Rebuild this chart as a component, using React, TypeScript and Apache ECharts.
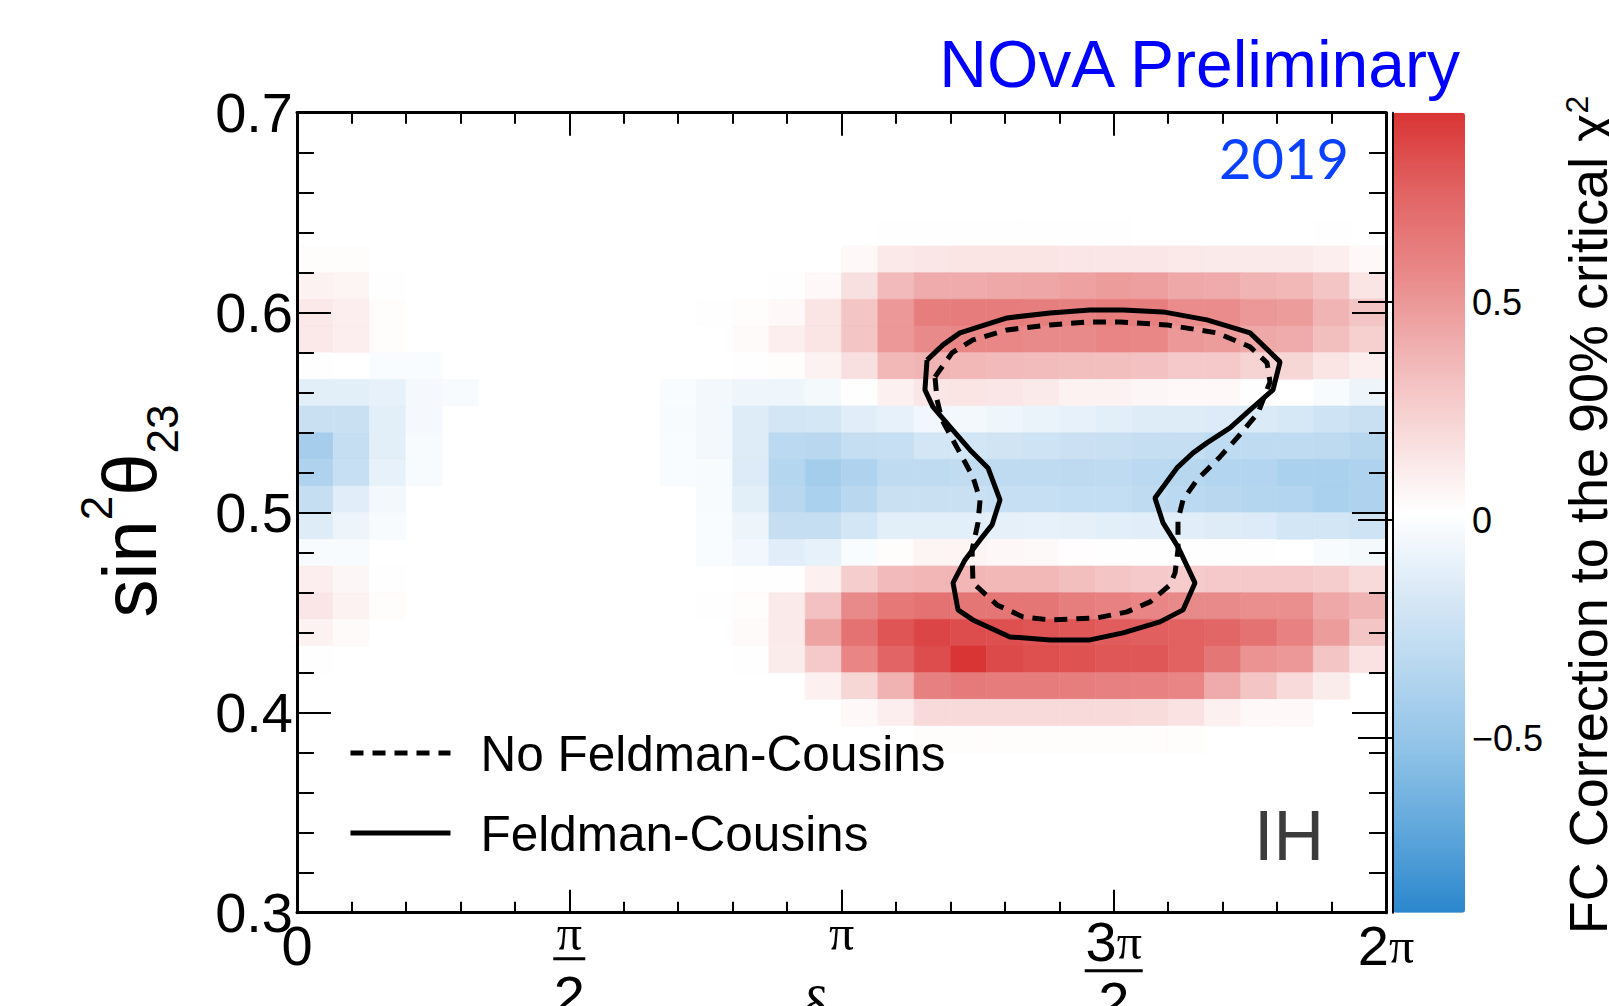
import React, { useEffect, useRef } from "react";
import * as echarts from "echarts";

const SANS = "Liberation Sans";
const SERIF = "Liberation Serif";

// axis ranges and binning
const DELTA_MIN = 0;
const DELTA_MAX = 2 * Math.PI;
const SIN2_MIN = 0.3;
const SIN2_MAX = 0.7;
const N_DELTA_BINS = 30;
const N_SIN2_BINS = 30;

// FC correction to the 90% critical chi^2, rows from top (0.6867-0.70) to bottom (0.30-0.3133)
const fcCorrection: number[][] = [
  [0,0,0,0,0,0,0,0,0,0, 0,0,0,0,0,0,0,0,0,0, 0,0,0,0,0,0,0,0,0,0],
  [0,0,0,0,0,0,0,0,0,0, 0,0,0,0,0,0,0,0,0,0, 0,0,0,0,0,0,0,0,0,0],
  [0,0,0,0,0,0,0,0,0,0, 0,0,0,0,0,0,0,0,0,0, 0,0,0,0,0,0,0,0,0,0],
  [0,0,0,0,0,0,0,0,0,0, 0,0,0,0,0,0,0,0,0,0, 0,0,0,0,0,0,0,0,0,0],
  [0,0,0,0,0,0,0,0,0,0, 0,0,0,0,0,0,0.02,0.02,0.02,0.02, 0.02,0.02,0.02,0.015,0.015,0.015,0.015,0.015,0.01,0],
  [0.03,0.03,0,0,0,0,0,0,0,0, 0,0,0,0,0,0.05,0.13,0.14,0.15,0.15, 0.15,0.14,0.14,0.14,0.13,0.12,0.12,0.12,0.1,0.05],
  [0.08,0.07,0.02,0,0,0,0,0,0,0, 0,0,0,0.02,0.05,0.17,0.35,0.42,0.42,0.43, 0.44,0.46,0.48,0.47,0.43,0.42,0.38,0.36,0.3,0.15],
  [0.13,0.1,0.03,0.015,0,0,0,0,0,0, 0,0.01,0.03,0.05,0.15,0.3,0.5,0.62,0.63,0.63, 0.62,0.61,0.63,0.62,0.55,0.55,0.5,0.48,0.38,0.3],
  [0.13,0.1,0.03,0.015,0,0,0,0,0,0, 0,0.015,0.04,0.1,0.15,0.3,0.5,0.56,0.57,0.57, 0.56,0.56,0.58,0.57,0.5,0.48,0.43,0.42,0.33,0.25],
  [0.02,0,-0.01,-0.01,0,0,0,0,0,0, 0,0,0.02,0.03,0.08,0.17,0.36,0.38,0.36,0.35, 0.34,0.33,0.33,0.32,0.28,0.28,0.23,0.22,0.15,0.1],
  [-0.12,-0.12,-0.1,-0.03,-0.015,0,0,0,0,0, -0.01,-0.04,-0.065,-0.065,-0.035,0.01,0.09,0.14,0.15,0.14, 0.12,0.08,0.08,0.06,0.05,0.05,0.02,0,-0.02,-0.07],
  [-0.25,-0.25,-0.12,-0.03,0,0,0,0,0,0, -0.015,-0.04,-0.14,-0.2,-0.19,-0.13,-0.1,-0.05,-0.04,-0.06, -0.08,-0.1,-0.12,-0.14,-0.14,-0.15,-0.16,-0.18,-0.22,-0.25],
  [-0.42,-0.27,-0.12,-0.02,0,0,0,0,0,0, -0.01,-0.04,-0.14,-0.32,-0.33,-0.27,-0.26,-0.2,-0.2,-0.21, -0.22,-0.24,-0.25,-0.27,-0.27,-0.3,-0.3,-0.3,-0.31,-0.34],
  [-0.38,-0.26,-0.1,-0.02,0,0,0,0,0,0, -0.01,-0.02,-0.15,-0.35,-0.43,-0.38,-0.3,-0.3,-0.29,-0.3, -0.3,-0.31,-0.3,-0.32,-0.34,-0.36,-0.36,-0.4,-0.4,-0.38],
  [-0.27,-0.13,-0.04,0,0,0,0,0,0,0, 0,-0.02,-0.12,-0.33,-0.4,-0.33,-0.25,-0.25,-0.25,-0.26, -0.26,-0.28,-0.28,-0.3,-0.32,-0.33,-0.35,-0.36,-0.4,-0.38],
  [-0.14,-0.07,-0.015,0,0,0,0,0,0,0, 0,-0.01,-0.07,-0.27,-0.27,-0.2,-0.12,-0.12,-0.12,-0.11, -0.1,-0.11,-0.12,-0.13,-0.13,-0.14,-0.15,-0.2,-0.2,-0.22],
  [-0.015,-0.015,0,0,0,0,0,0,0,0, 0,-0.01,-0.05,-0.13,-0.1,-0.01,0.03,0.07,0.07,0.055, 0.045,0.025,0.02,0.02,0.02,0.02,0.01,0,-0.015,-0.035],
  [0.1,0.06,0.02,0,0,0,0,0,0,0, 0,0,0.01,0.02,0.09,0.26,0.35,0.37,0.37,0.36, 0.36,0.33,0.3,0.28,0.27,0.28,0.28,0.28,0.26,0.2],
  [0.14,0.08,0.03,0,0,0,0,0,0,0, 0,0.01,0.03,0.12,0.32,0.56,0.65,0.68,0.66,0.66, 0.66,0.62,0.6,0.58,0.56,0.56,0.54,0.54,0.43,0.38],
  [0.08,0.04,0,0,0,0,0,0,0,0, 0,0.015,0.04,0.12,0.45,0.68,0.81,0.87,0.84,0.83, 0.81,0.8,0.78,0.77,0.76,0.74,0.68,0.6,0.48,0.3],
  [0.02,0,0,0,0,0,0,0,0,0, 0,0,0.02,0.11,0.28,0.58,0.75,0.84,0.93,0.85, 0.83,0.82,0.8,0.8,0.76,0.66,0.52,0.5,0.3,0.16],
  [0,0,0,0,0,0,0,0,0,0, 0,0,0,0,0.09,0.22,0.39,0.61,0.64,0.63, 0.63,0.62,0.61,0.6,0.58,0.42,0.3,0.2,0.11,0],
  [0,0,0,0,0,0,0,0,0,0, 0,0,0,0,0,0.05,0.1,0.2,0.2,0.2, 0.2,0.2,0.2,0.19,0.16,0.09,0.05,0.05,0,0],
  [0,0,0,0,0,0,0,0,0,0, 0,0,0,0,0,0,0.015,0.03,0.03,0.03, 0.03,0.03,0.03,0.03,0.03,0,0,0,0,0],
  [0,0,0,0,0,0,0,0,0,0, 0,0,0,0,0,0,0,0,0,0, 0,0,0,0,0,0,0,0,0,0],
  [0,0,0,0,0,0,0,0,0,0, 0,0,0,0,0,0,0,0,0,0, 0,0,0,0,0,0,0,0,0,0],
  [0,0,0,0,0,0,0,0,0,0, 0,0,0,0,0,0,0,0,0,0, 0,0,0,0,0,0,0,0,0,0],
  [0,0,0,0,0,0,0,0,0,0, 0,0,0,0,0,0,0,0,0,0, 0,0,0,0,0,0,0,0,0,0],
  [0,0,0,0,0,0,0,0,0,0, 0,0,0,0,0,0,0,0,0,0, 0,0,0,0,0,0,0,0,0,0],
  [0,0,0,0,0,0,0,0,0,0, 0,0,0,0,0,0,0,0,0,0, 0,0,0,0,0,0,0,0,0,0],
];

// 90% contours (delta_CP in radians, sin^2 theta_23)
const feldmanCousins: [number, number][] = [
  [3.635,0.5763],[3.727,0.5839],[3.825,0.5899],[4.097,0.5974],[4.345,0.5999],[4.575,0.6014],[4.766,0.6014],
  [4.997,0.6004],[5.250,0.5964],[5.499,0.5899],[5.672,0.5754],[5.631,0.5614],[5.499,0.5514],[5.383,0.5424],
  [5.250,0.5349],[5.170,0.5299],[5.077,0.5224],[4.950,0.5074],[4.997,0.4949],[5.083,0.4829],[5.181,0.4649],
  [5.112,0.4514],[4.979,0.4454],[4.766,0.4399],[4.575,0.4364],[4.345,0.4364],[4.114,0.4379],[3.900,0.4464],
  [3.814,0.4514],[3.785,0.4649],[3.854,0.4764],[3.941,0.4864],[4.010,0.4939],[4.056,0.5064],[3.987,0.5224],
  [3.883,0.5314],[3.768,0.5429],[3.669,0.5529],[3.623,0.5614],[3.635,0.5763],
];
const noFeldmanCousins: [number, number][] = [
  [3.681,0.5679],[3.779,0.5799],[3.900,0.5864],[4.097,0.5914],[4.345,0.5939],[4.575,0.5954],[4.749,0.5954],
  [5.020,0.5939],[5.308,0.5899],[5.499,0.5829],[5.597,0.5749],[5.614,0.5654],[5.545,0.5499],[5.424,0.5374],
  [5.325,0.5279],[5.193,0.5164],[5.112,0.5064],[5.083,0.4964],[5.083,0.4814],[5.066,0.4699],[5.037,0.4639],
  [4.922,0.4554],[4.789,0.4504],[4.616,0.4474],[4.345,0.4464],[4.189,0.4479],[4.039,0.4539],[3.900,0.4649],
  [3.895,0.4814],[3.929,0.4949],[3.941,0.5064],[3.900,0.5179],[3.825,0.5299],[3.721,0.5464],[3.693,0.5564],
  [3.681,0.5679],
];

const xTickLabels = ["0", "π/2", "π", "3π/2", "2π"];
const colorbarTicks = [-0.5, 0, 0.5];
const colorbarMin = -0.9;
const colorbarMax = 0.934;
const paletteColors = [
  "#2b87cc", "#5ea6db", "#8ec2e7", "#b5d6ef", "#d9e9f6", "#ffffff",
  "#f8dada", "#f1b3b3", "#e98888", "#e26464", "#d93434",
];

const DX = (DELTA_MAX - DELTA_MIN) / N_DELTA_BINS;
const DY = (SIN2_MAX - SIN2_MIN) / N_SIN2_BINS;

function buildCells() {
  const cells: number[][] = [];
  fcCorrection.forEach((row, r) => {
    const j = N_SIN2_BINS - 1 - r;
    row.forEach((v, i) => {
      if (v !== 0) cells.push([DELTA_MIN + (i + 0.5) * DX, SIN2_MIN + (j + 0.5) * DY, v]);
    });
  });
  return cells;
}

function piLabel(s: string): string {
  const tok = (str: string, digitStyle: string, piStyle: string) =>
    str.split("").map((ch) => (ch === "π" ? `{${piStyle}|π}` : `{${digitStyle}|${ch}}`)).join("");
  if (s.indexOf("/") >= 0) {
    const [num, den] = s.split("/");
    const hasDigit = /\d/.test(num);
    const numRich = hasDigit ? tok(num, "tn", "pn") : "{p|π}";
    return `${numRich}\n{${hasDigit ? "barw" : "bar"}| }\n{d|${den}}`;
  }
  if (s === "π") return "{p|π}";
  return tok(s, "t", "pd");
}

export default function App() {
  const ref = useRef<HTMLDivElement>(null);

  useEffect(() => {
    if (!ref.current) return;
    const chart = echarts.init(ref.current, null, { renderer: "svg", width: 1609, height: 1006 });
    const cells = buildCells();
    const axisColor = "#000";

    const mainTicks = (major: number, minor: number) => ({
      axisLine: { show: true, onZero: false, lineStyle: { color: axisColor, width: 3 } },
      axisTick: { show: true, inside: true, length: major, lineStyle: { color: axisColor, width: 2 } },
      minorTick: { show: true, splitNumber: 5, length: minor, lineStyle: { color: axisColor, width: 2 } },
      splitLine: { show: false },
      minorSplitLine: { show: false },
    });

    const option: any = {
      animation: false,
      backgroundColor: "#ffffff",
      grid: [
        { left: 297, top: 112.7, width: 1089, height: 800, show: false, containLabel: false, outerBoundsMode: "none" },
        { left: 1393, top: 112.7, width: 72, height: 800, show: false, containLabel: false, outerBoundsMode: "none" },
      ],
      xAxis: [
        {
          type: "value", gridIndex: 0, min: DELTA_MIN, max: DELTA_MAX, interval: Math.PI / 2,
          position: "bottom", z: 10,
          ...mainTicks(23, 11),
          axisLabel: {
            show: true, margin: 5, color: "#000", showMinLabel: true, showMaxLabel: true,
            hideOverlap: false,
            formatter: (v: number) => piLabel(xTickLabels[Math.round(v / (Math.PI / 2))] ?? ""),
            rich: {
              t: { fontSize: 56, fontFamily: SANS, lineHeight: 56, color: "#000" },
              pd: { fontSize: 50, fontFamily: SERIF, lineHeight: 56, color: "#000" },
              p: { fontSize: 50, fontFamily: SERIF, lineHeight: 30, color: "#000" },
              tn: { fontSize: 56, fontFamily: SANS, lineHeight: 48, color: "#000" },
              pn: { fontSize: 50, fontFamily: SERIF, lineHeight: 48, color: "#000" },
              bar: { width: 32, height: 3, lineHeight: 22, backgroundColor: "#000", fontSize: 1 },
              barw: { width: 58, height: 3, lineHeight: 10, backgroundColor: "#000", fontSize: 1 },
              d: { fontSize: 56, fontFamily: SANS, lineHeight: 52, color: "#000" },
            },
          },
          name: "{dl|δ}{cp|CP}",
          nameLocation: "middle",
          nameGap: 54,
          nameMoveOverlap: false,
          nameTextStyle: {
            verticalAlign: "top",
            rich: {
              dl: { fontSize: 58, fontFamily: SERIF, lineHeight: 80, color: "#000" },
              cp: { fontSize: 38, fontFamily: SANS, lineHeight: 30, color: "#000", verticalAlign: "bottom" },
            },
          },
        },
        {
          type: "value", gridIndex: 0, min: DELTA_MIN, max: DELTA_MAX, interval: Math.PI / 2,
          position: "top", z: 10,
          ...mainTicks(23, 11),
          axisLabel: { show: false },
        },
        { type: "value", gridIndex: 1, min: 0, max: 1, show: false },
      ],
      yAxis: [
        {
          type: "value", gridIndex: 0, min: SIN2_MIN, max: SIN2_MAX, interval: 0.1,
          position: "left", z: 10,
          ...mainTicks(34, 17),
          axisLabel: {
            show: true, margin: 4, color: "#000", fontSize: 56, fontFamily: SANS,
            showMinLabel: true, showMaxLabel: true,
            formatter: (v: number) => v.toFixed(1),
          },
        },
        {
          type: "value", gridIndex: 0, min: SIN2_MIN, max: SIN2_MAX, interval: 0.1,
          position: "right", z: 10,
          ...mainTicks(34, 17),
          axisLabel: { show: false },
        },
        {
          type: "value", gridIndex: 1, min: colorbarMin, max: colorbarMax, position: "right", z: 10,
          axisLine: { show: true, lineStyle: { color: "#000", width: 2 } },
          axisTick: { show: true, inside: true, length: 35, customValues: colorbarTicks, lineStyle: { color: "#000", width: 2 } },
          minorTick: { show: false },
          splitLine: { show: false },
          axisLabel: {
            show: true, margin: 7, color: "#000", fontSize: 36, fontFamily: SANS,
            customValues: colorbarTicks,
            formatter: (v: number) => (v < 0 ? "\u2212" + Math.abs(v) : String(v)),
          },
        },
      ],
      visualMap: {
        type: "continuous",
        min: colorbarMin,
        max: colorbarMax,
        dimension: 2,
        seriesIndex: 0,
        orient: "vertical",
        left: 1393,
        top: 112.7,
        itemWidth: 72,
        itemHeight: 800,
        padding: 0,
        calculable: false,
        hoverLink: false,
        realtime: false,
        inRange: { color: paletteColors },
      },
      legend: {
        data: ["No Feldman-Cousins", "Feldman-Cousins"],
        orient: "vertical",
        left: 348,
        top: 725,
        padding: 0,
        itemWidth: 100,
        itemHeight: 56,
        itemGap: 24,
        selectedMode: false,
        itemStyle: { opacity: 0, borderWidth: 0, color: "rgba(0,0,0,0)" },
        lineStyle: { width: 5 },
        textStyle: { fontSize: 49.5, fontFamily: SANS, color: "#000", lineHeight: 56, padding: [0, 0, 0, 25] },
      },
      series: [
        {
          type: "custom",
          name: "FC correction",
          coordinateSystem: "cartesian2d",
          xAxisIndex: 0,
          yAxisIndex: 0,
          dimensions: ["delta", "sin2", "fc"],
          encode: { x: 0, y: 1 },
          data: cells,
          silent: true,
          z: 1,
          renderItem: (params: any, api: any) => {
            const xc = api.value(0);
            const yc = api.value(1);
            const p0 = api.coord([xc - DX / 2, yc + DY / 2]);
            const p1 = api.coord([xc + DX / 2, yc - DY / 2]);
            const color = api.visual("color");
            return {
              type: "rect",
              shape: { x: p0[0], y: p0[1], width: p1[0] - p0[0], height: p1[1] - p0[1] },
              style: { fill: color, stroke: color, lineWidth: 0.6 },
            };
          },
        },
        {
          type: "line",
          name: "No Feldman-Cousins",
          xAxisIndex: 0,
          yAxisIndex: 0,
          data: noFeldmanCousins,
          symbol: "none",
          silent: true,
          z: 3,
          itemStyle: { color: "#000" },
          lineStyle: { color: "#000", width: 5, type: [13, 9] },
        },
        {
          type: "line",
          name: "Feldman-Cousins",
          xAxisIndex: 0,
          yAxisIndex: 0,
          data: feldmanCousins,
          symbol: "none",
          silent: true,
          z: 3,
          itemStyle: { color: "#000" },
          lineStyle: { color: "#000", width: 5, type: "solid" },
        },
      ],
      graphic: [
        {
          type: "text", x: 1460, y: 64, z: 100,
          style: { text: "NOvA Preliminary", fontSize: 66, fontFamily: SANS, fill: "#0000ff", align: "right", verticalAlign: "middle" },
        },
        {
          type: "text", x: 1349, y: 157, z: 100,
          style: { text: "2019", fontSize: 56, fontFamily: "Lato", fill: "#0a40ff", align: "right", verticalAlign: "middle" },
        },
        {
          type: "text", x: 1324, y: 836, z: 100,
          style: { text: "IH", fontSize: 70, fontFamily: SANS, fill: "#3c3c3c", align: "right", verticalAlign: "middle" },
        },
        {
          type: "text", x: 129, y: 511, rotation: Math.PI / 2, z: 100,
          style: {
            text: "{m|sin}{s|2}{m|θ}{b|23}",
            align: "center", verticalAlign: "middle",
            rich: {
              m: { fontSize: 76, fontFamily: SANS, lineHeight: 110, fill: "#000" },
              s: { fontSize: 44, fontFamily: SANS, lineHeight: 44, verticalAlign: "top", fill: "#000" },
              b: { fontSize: 44, fontFamily: SANS, lineHeight: 44, verticalAlign: "bottom", fill: "#000" },
            },
          },
        },
        {
          type: "text", x: 1588, y: 515, rotation: Math.PI / 2, z: 100,
          style: {
            text: "{m|FC Correction to the 90% critical χ}{s|2}",
            align: "center", verticalAlign: "middle",
            rich: {
              m: { fontSize: 54, fontFamily: SANS, lineHeight: 54, fill: "#000" },
              s: { fontSize: 32, fontFamily: SANS, lineHeight: 32, verticalAlign: "top", fill: "#000" },
            },
          },
        },
      ],
    };

    chart.setOption(option);
    return () => chart.dispose();
  }, []);

  return (
    <div
      ref={ref}
      style={{ position: "fixed", left: 0, top: 0, width: 1609, height: 1006, background: "#fff" }}
    />
  );
}
